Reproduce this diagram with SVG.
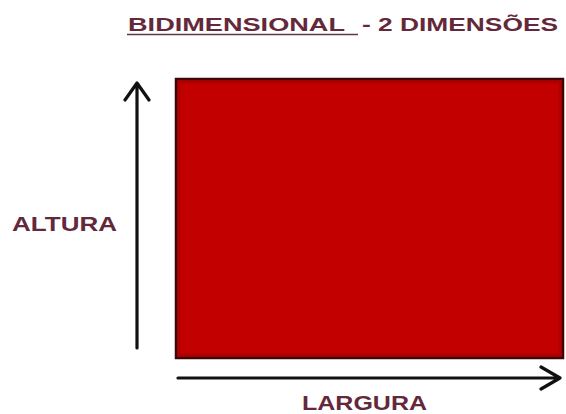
<svg xmlns="http://www.w3.org/2000/svg" width="566" height="414" viewBox="0 0 566 414">
<style>
.lbl{font-family:"Liberation Sans",Arial,sans-serif;font-weight:bold;fill:#63293a}
.ax{stroke:#111;stroke-width:3.2;fill:none;stroke-linecap:round;stroke-linejoin:round}
</style>
<rect width="566" height="414" fill="#ffffff"/>
<g id="title">
<text class="lbl" x="128" y="31" font-size="18" textLength="217" lengthAdjust="spacingAndGlyphs">BIDIMENSIONAL</text>
<line x1="127" y1="34.5" x2="358" y2="34.5" stroke="#5a3a44" stroke-width="1.6"/>
<text class="lbl" x="362" y="31" font-size="18" textLength="196" lengthAdjust="spacingAndGlyphs">- 2 DIMENSÕES</text>
</g>
<g id="rectangle">
<rect x="176" y="79" width="387" height="279" fill="#c20000" stroke="#3d0505" stroke-width="2.5"/>
<rect x="179" y="82" width="381" height="273" fill="none" stroke="#a00000" stroke-width="3" opacity="0.6"/>
</g>
<g id="altura">
<text class="lbl" x="12" y="231" font-size="21" textLength="105" lengthAdjust="spacingAndGlyphs">ALTURA</text>
</g>
<g id="largura">
<text class="lbl" x="302" y="410" font-size="20" textLength="125" lengthAdjust="spacingAndGlyphs">LARGURA</text>
</g>
<g id="connectors">
<path class="ax" d="M137 348 V83 M125 100 L137 83 L149 100"/>
<path class="ax" d="M178 378 H560 M541 367 L560 378 L541 389"/>
</g>
</svg>
